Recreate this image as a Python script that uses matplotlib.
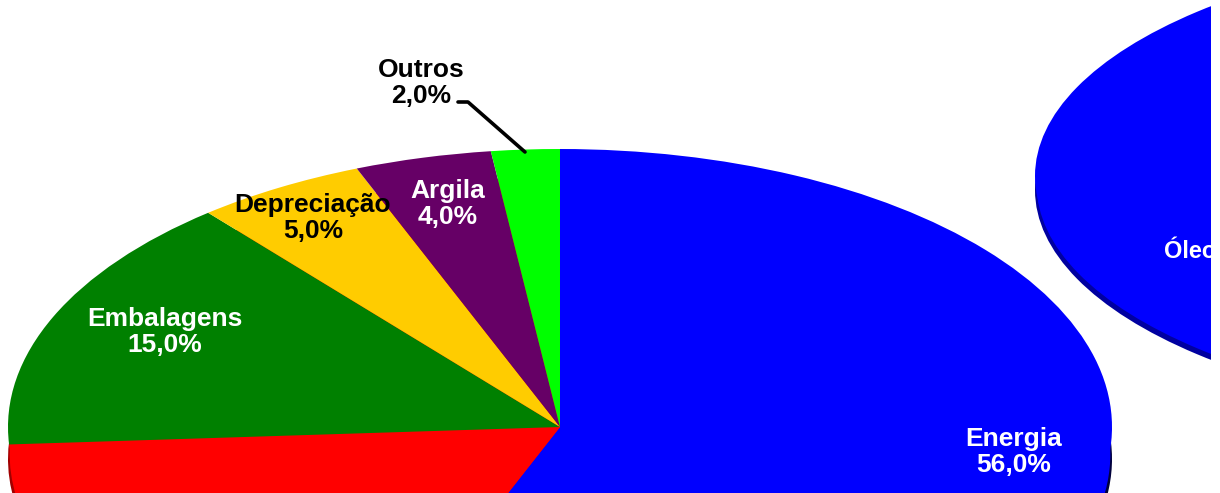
import matplotlib
matplotlib.use("Agg")
import matplotlib.pyplot as plt

# Cost shares of the main product
categories = ["Energia", "Outros insumos", "Embalagens", "Depreciação", "Argila", "Outros"]
shares = [56.0, 18.0, 15.0, 5.0, 4.0, 2.0]
colors = ["#0000FF", "#FF0000", "#008000", "#FFCC00", "#660066", "#00FF00"]

# Second pie: only its blue slice falls inside the frame
second_categories = ["Óleo"]
second_shares = [100.0]
second_colors = ["#0000FF"]

W, H = 1220, 493
plt.rcParams["font.family"] = ["Liberation Sans", "DejaVu Sans"]
fig = plt.figure(figsize=(W / 100, H / 100), dpi=100, facecolor="white")


def pie_axes(cx, cy, rx, ry, left, right, top, bottom):
    """Axes over a pixel box, with the unit circle mapped to an rx by ry ellipse."""
    ax = fig.add_axes([left / W, 1 - bottom / H, (right - left) / W, (bottom - top) / H])
    return ax, ((left - cx) / rx, (right - cx) / rx), ((cy - bottom) / ry, (cy - top) / ry)


def finish(ax, xlim, ylim):
    ax.set_aspect("auto")
    ax.set_xlim(*xlim)
    ax.set_ylim(*ylim)
    ax.axis("off")
    # pie() turns clipping off on its wedges; the frame has to cut them
    for patch in ax.patches:
        patch.set_clip_on(True)
        patch.set_clip_path(ax.patch)


def draw_pie(ax, values, cols, ry, depth, side_dark):
    side = [values[0], sum(values[1:])] if len(values) > 1 else values
    side_face = cols[:2][: len(side)]
    kw = dict(startangle=90, counterclock=False, wedgeprops=dict(linewidth=0))
    ax.pie(side, colors=side_dark, center=(0, -depth / ry), **kw)
    ax.pie(side, colors=side_face, center=(0, -(depth - 5) / ry), radius=0.997, **kw)
    ax.pie(values, colors=cols, **kw)


# Main pie
ax1, xl1, yl1 = pie_axes(560, 427, 552, 278, 0, 1211, 0, H)
draw_pie(ax1, shares, colors, 278, 32, ["#00003C", "#A00000"])
finish(ax1, xl1, yl1)

# Second pie, cut off by the frame
ax2, xl2, yl2 = pie_axes(1587, 176, 552, 232, 1000, 1211, 0, H)
draw_pie(ax2, second_shares, second_colors, 232, 14, ["#0000A0"])
finish(ax2, xl2, yl2)

# Pixel-space overlay for labels and the leader line
over = fig.add_axes([0, 0, 1, 1])
over.set_xlim(0, W)
over.set_ylim(H, 0)
over.axis("off")
over.patch.set_alpha(0)


def pct(v):
    return f"{v:.1f}".replace(".", ",") + "%"


label_style = dict(ha="center", va="center", fontweight="bold", fontsize=19, linespacing=1.15)
label_spots = {
    "Energia": (1014, 452, "white"),
    "Embalagens": (165, 332, "white"),
    "Depreciação": (313, 218, "black"),
    "Argila": (448, 204, "white"),
    "Outros": (421, 83, "black"),
}
for name, value in zip(categories, shares):
    if name in label_spots:
        x, y, c = label_spots[name]
        over.text(x, y, f"{name}\n{pct(value)}", color=c, **label_style)

ax2.text(1164, 251, second_categories[0], transform=over.transData, color="white",
         ha="left", va="center", fontweight="bold", fontsize=17, clip_on=True)

over.plot([458, 468, 525], [102, 102, 152], color="black", lw=2.6, solid_capstyle="round")

fig.savefig("out.png", dpi=100, facecolor="white")
